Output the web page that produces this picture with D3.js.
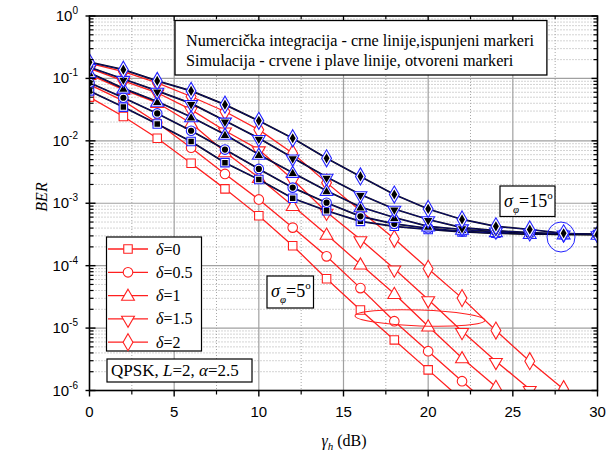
<!DOCTYPE html>
<html>
<head>
<meta charset="utf-8">
<script src="https://cdn.jsdelivr.net/npm/d3@7"></script>
<style>
  body { margin: 0; background: #fff; }
  svg { display: block; }
</style>
</head>
<body>
<svg id="chart" width="613" height="451"></svg>
<script>
// SNR points (dB)
const snr = d3.range(0, 31, 2);
const deltas = ["0", "0.5", "1", "1.5", "2"];
const shapes = ["square", "circle", "triangle", "triangleDown", "diamond"];

// sigma_phi = 15 deg (numerical = simulation, they overlap)
const ber15_d0  = [0.0631, 0.0347, 0.0186, 9.77e-3, 4.47e-3, 2.4e-3, 1.2e-3, 7.59e-4, 5.13e-4, 4.27e-4, 3.8e-4, 3.47e-4, 3.31e-4, 3.24e-4, 3.16e-4, 3.16e-4];
const ber15_d05 = [0.0851, 0.049, 0.0275, 0.0145, 7.24e-3, 3.55e-3, 1.78e-3, 1.02e-3, 6.17e-4, 4.68e-4, 3.98e-4, 3.55e-4, 3.31e-4, 3.24e-4, 3.16e-4, 3.16e-4];
const ber15_d1  = [0.123, 0.0692, 0.0427, 0.024, 0.0126, 6.03e-3, 3.09e-3, 1.58e-3, 8.7e-4, 5.9e-4, 4.27e-4, 3.8e-4, 3.47e-4, 3.24e-4, 3.2e-4, 3.16e-4];
const ber15_d15 = [0.151, 0.0977, 0.0631, 0.0398, 0.0209, 0.011, 5.37e-3, 2.63e-3, 1.38e-3, 8.1e-4, 5.5e-4, 4.07e-4, 3.63e-4, 3.39e-4, 3.24e-4, 3.16e-4];
const ber15_d2  = [0.182, 0.138, 0.0912, 0.0631, 0.038, 0.0209, 0.011, 5.25e-3, 2.69e-3, 1.38e-3, 8.1e-4, 5.5e-4, 4.27e-4, 3.8e-4, 3.3e-4, 3.16e-4];

// sigma_phi = 5 deg (simulation, red)
const ber5_d0  = [0.0501, 0.0245, 0.011, 4.37e-3, 1.7e-3, 6.3e-4, 2.09e-4, 6.17e-5, 1.95e-5, 6.46e-6, 2.14e-6, 7.1e-7];
const ber5_d05 = [0.0794, 0.0437, 0.0195, 7.76e-3, 2.95e-3, 1.15e-3, 4.07e-4, 1.41e-4, 4.37e-5, 1.29e-5, 4.27e-6, 1.41e-6, 4.7e-7];
const ber5_d1  = [0.115, 0.0661, 0.0407, 0.0191, 6.61e-3, 2.57e-3, 9.12e-4, 3.16e-4, 1.05e-4, 3.55e-5, 1.07e-5, 3.31e-6, 1.15e-6, 3.8e-7];
const ber5_d15 = [0.145, 0.0912, 0.0589, 0.0316, 0.0145, 7.24e-3, 2.4e-3, 7.24e-4, 2.63e-4, 8.91e-5, 2.88e-5, 8.91e-6, 2.95e-6, 1.05e-6, 3.5e-7];
const ber5_d2  = [0.174, 0.129, 0.0851, 0.0513, 0.0295, 0.0151, 6.31e-3, 2.14e-3, 7.59e-4, 2.69e-4, 8.91e-5, 3.02e-5, 9.12e-6, 2.95e-6, 1.05e-6, 3.47e-7];

const xMajor = [0, 5, 10, 15, 20, 25, 30];
const xMinor = [2.5, 7.5, 12.5, 17.5, 22.5, 27.5];
const yExp = [0, -1, -2, -3, -4, -5, -6];

const series15 = [ber15_d0, ber15_d05, ber15_d1, ber15_d15, ber15_d2];
const series5 = [ber5_d0, ber5_d05, ber5_d1, ber5_d15, ber5_d2];

const L = 89.5, R = 597.5, T = 16, B = 390.5;
const x = d3.scaleLinear().domain([0, 30]).range([L, R]);
const y = d3.scaleLog().domain([1e-6, 1]).range([B, T]);

const svg = d3.select("#chart");
const serif = "'Liberation Serif', 'Times New Roman', serif";
const sans = "'Liberation Sans', Arial, sans-serif";

svg.append("defs").append("clipPath").attr("id", "plot")
  .append("rect").attr("x", L).attr("y", T).attr("width", R - L).attr("height", B - T);

// grid
const yMinor = [];
yExp.slice(1).forEach(e => { for (let k = 2; k <= 9; k++) yMinor.push(k * Math.pow(10, e)); });
const grid = svg.append("g");
grid.selectAll(".gxm").data(xMinor).join("line")
  .attr("x1", d => x(d)).attr("x2", d => x(d)).attr("y1", T).attr("y2", B)
  .attr("stroke", "#a8a8a8").attr("stroke-dasharray", "1,2");
grid.selectAll(".gym").data(yMinor).join("line")
  .attr("x1", L).attr("x2", R).attr("y1", d => y(d)).attr("y2", d => y(d))
  .attr("stroke", "#a8a8a8").attr("stroke-dasharray", "1,2");
grid.selectAll(".gx").data(xMajor.slice(1, -1)).join("line")
  .attr("x1", d => x(d)).attr("x2", d => x(d)).attr("y1", T).attr("y2", B)
  .attr("stroke", "#a0a0a0").attr("stroke-width", 1.2);
grid.selectAll(".gy").data(yExp.slice(1, -1)).join("line")
  .attr("x1", L).attr("x2", R).attr("y1", d => y(Math.pow(10, d))).attr("y2", d => y(Math.pow(10, d)))
  .attr("stroke", "#a0a0a0").attr("stroke-width", 1.2);

// marker symbols
function sym(shape, size) {
  const t = {square: d3.symbolSquare, circle: d3.symbolCircle, triangle: d3.symbolTriangle,
             triangleDown: d3.symbolTriangle, diamond: d3.symbolDiamond}[shape];
  return d3.symbol().type(t).size(size)();
}
function markerTransform(shape, px, py) {
  if (shape === "triangleDown") return `translate(${px},${py + 1}) rotate(180)`;
  if (shape === "triangle") return `translate(${px},${py + 1})`;
  return `translate(${px},${py})`;
}
const sizes = {square: 72, circle: 72, triangle: 72, triangleDown: 72, diamond: 84};
const sizesSmall = {square: 30, circle: 30, triangle: 30, triangleDown: 30, diamond: 30};

const line = d3.line().x(d => x(d[0])).y(d => y(d[1]));
const plot = svg.append("g").attr("clip-path", "url(#plot)");

// red, sigma = 5
series5.forEach((s, i) => {
  const pts = s.map((v, j) => [snr[j], v]);
  plot.append("path").attr("d", line(pts)).attr("fill", "none")
    .attr("stroke", "#ff2020").attr("stroke-width", 1.3);
  plot.append("g").selectAll("path").data(pts).join("path")
    .attr("d", sym(shapes[i], sizes[shapes[i]]))
    .attr("transform", d => markerTransform(shapes[i], x(d[0]), y(d[1])))
    .attr("fill", "#fff").attr("stroke", "#ff2020").attr("stroke-width", 1.1);
});

// sigma = 15: numerical black + simulation blue
series15.forEach((s, i) => {
  const pts = s.map((v, j) => [snr[j], v]);
  plot.append("path").attr("d", line(pts)).attr("fill", "none")
    .attr("stroke", "#000").attr("stroke-width", 1.7);
  plot.append("path").attr("d", line(pts)).attr("fill", "none")
    .attr("stroke", "#1a1aff").attr("stroke-width", 1).attr("stroke-opacity", 0.45);
});
series15.forEach((s, i) => {
  const pts = s.map((v, j) => [snr[j], v]);
  plot.append("g").selectAll("path").data(pts).join("path")
    .attr("d", sym(shapes[i], sizes[shapes[i]]))
    .attr("transform", d => markerTransform(shapes[i], x(d[0]), y(d[1])))
    .attr("fill", "#fff").attr("stroke", "#2222ff").attr("stroke-width", 1.1);
  plot.append("g").selectAll("path").data(pts).join("path")
    .attr("d", sym(shapes[i], sizesSmall[shapes[i]]))
    .attr("transform", d => markerTransform(shapes[i], x(d[0]), y(d[1])))
    .attr("fill", "#000");
});

// frame and ticks
const ax = svg.append("g").attr("stroke", "#000");
ax.append("rect").attr("x", L).attr("y", T).attr("width", R - L).attr("height", B - T)
  .attr("fill", "none").attr("stroke-width", 1.6);
xMajor.forEach(d => {
  ax.append("line").attr("x1", x(d)).attr("x2", x(d)).attr("y1", B).attr("y2", B + 6).attr("stroke-width", 1.4);
  ax.append("line").attr("x1", x(d)).attr("x2", x(d)).attr("y1", T).attr("y2", T + 5).attr("stroke-width", 1.2);
});
xMinor.forEach(d => {
  ax.append("line").attr("x1", x(d)).attr("x2", x(d)).attr("y1", B).attr("y2", B + 4).attr("stroke-width", 1.2);
  ax.append("line").attr("x1", x(d)).attr("x2", x(d)).attr("y1", T).attr("y2", T + 3).attr("stroke-width", 1.2);
});
yExp.forEach(e => {
  const py = y(Math.pow(10, e));
  ax.append("line").attr("x1", L - 4).attr("x2", L + 6).attr("y1", py).attr("y2", py).attr("stroke-width", 1.4);
  ax.append("line").attr("x1", R - 6).attr("x2", R).attr("y1", py).attr("y2", py).attr("stroke-width", 1.4);
});
yMinor.forEach(d => {
  ax.append("line").attr("x1", L).attr("x2", L + 4).attr("y1", y(d)).attr("y2", y(d)).attr("stroke-width", 1.2);
  ax.append("line").attr("x1", R - 4).attr("x2", R).attr("y1", y(d)).attr("y2", y(d)).attr("stroke-width", 1.2);
});

// tick labels
svg.append("g").selectAll("text").data(xMajor).join("text")
  .attr("x", d => x(d)).attr("y", 417).attr("text-anchor", "middle")
  .style("font", `15px ${sans}`).text(d => d);
const yl = svg.append("g").selectAll("text").data(yExp).join("text")
  .attr("x", 78).attr("y", e => y(Math.pow(10, e)) + 5).attr("text-anchor", "end")
  .style("font", `15px ${sans}`);
yl.append("tspan").text("10");
yl.append("tspan").attr("dy", -7).style("font-size", "10px").text(e => e === 0 ? "0" : "-" + (-e));

// axis titles
const xt = svg.append("text").attr("x", 344).attr("y", 446).attr("text-anchor", "middle")
  .style("font", `16px ${serif}`);
xt.append("tspan").style("font-style", "italic").text("γ");
xt.append("tspan").attr("dy", 4).style("font-size", "11px").style("font-style", "italic").text("h");
xt.append("tspan").attr("dy", -4).text(" (dB)");
svg.append("text").attr("transform", "translate(47,197) rotate(-90)").attr("text-anchor", "middle")
  .style("font", `italic 16px ${serif}`).text("BER");

// top note box
const note = svg.append("g");
const noteRect = note.append("rect").attr("x", 175).attr("y", 20.5).attr("height", 54.5)
  .attr("fill", "#fff").attr("stroke", "#000").attr("stroke-width", 1.3);
const n1 = note.append("text").attr("x", 186).attr("y", 45.5).style("font", `16.2px ${serif}`)
  .text("Numercička integracija - crne linije,ispunjeni markeri");
const n2 = note.append("text").attr("x", 186).attr("y", 65.5).style("font", `16.2px ${serif}`)
  .text("Simulacija - crvene i plave linije, otvoreni markeri");
const nw = Math.max(n1.node().getComputedTextLength(), n2.node().getComputedTextLength());
noteRect.attr("width", nw + 24);

// legend
const lg = svg.append("g");
lg.append("rect").attr("x", 106.5).attr("y", 237).attr("width", 95).attr("height", 114)
  .attr("fill", "#fff").attr("stroke", "#000").attr("stroke-width", 1.2);
deltas.forEach((dl, i) => {
  const ly = 249 + i * 23.3;
  lg.append("line").attr("x1", 108).attr("x2", 148).attr("y1", ly).attr("y2", ly)
    .attr("stroke", "#ff2020").attr("stroke-width", 1.3);
  lg.append("path").attr("d", sym(shapes[i], sizes[shapes[i]]))
    .attr("transform", markerTransform(shapes[i], 128, ly))
    .attr("fill", "#fff").attr("stroke", "#ff2020").attr("stroke-width", 1.1);
  const t = lg.append("text").attr("x", 156).attr("y", ly + 5.5).style("font", `16px ${serif}`);
  t.append("tspan").style("font-style", "italic").text("δ");
  t.append("tspan").text("=" + dl);
});

// QPSK box
const qb = svg.append("g");
qb.append("rect").attr("x", 107).attr("y", 359).attr("width", 145).attr("height", 23)
  .attr("fill", "#fff").attr("stroke", "#000").attr("stroke-width", 1.2);
const qt = qb.append("text").attr("x", 111).attr("y", 376).style("font", `17px ${serif}`);
qt.append("tspan").text("QPSK, ");
qt.append("tspan").style("font-style", "italic").text("L");
qt.append("tspan").text("=2, ");
qt.append("tspan").style("font-style", "italic").text("α");
qt.append("tspan").text("=2.5");

// sigma boxes
function sigmaBox(bx, by, bw, bh, val) {
  const g = svg.append("g");
  g.append("rect").attr("x", bx).attr("y", by).attr("width", bw).attr("height", bh)
    .attr("fill", "#fff").attr("stroke", "#000").attr("stroke-width", 1.2);
  const t = g.append("text").attr("x", bx + 4).attr("y", by + 21).style("font", `18px ${serif}`);
  t.append("tspan").style("font-style", "italic").text("σ");
  t.append("tspan").attr("dy", 6).style("font-size", "11px").style("font-style", "italic").text("φ");
  t.append("tspan").attr("dy", -6).text("=" + val);
  t.append("tspan").attr("dy", -8).style("font-size", "11px").text("o");
}
sigmaBox(500, 186, 55, 30.5, "15");
sigmaBox(267, 276, 46.5, 32, "5");

// ellipses
svg.append("ellipse").attr("cx", 561).attr("cy", 237).attr("rx", 14).attr("ry", 15)
  .attr("fill", "none").attr("stroke", "#2020ff").attr("stroke-width", 1);
svg.append("ellipse").attr("cx", 0).attr("cy", 0).attr("rx", 65).attr("ry", 8)
  .attr("transform", "translate(420,318) rotate(2)")
  .attr("fill", "none").attr("stroke", "#ff2020").attr("stroke-width", 1);
</script>
</body>
</html>
